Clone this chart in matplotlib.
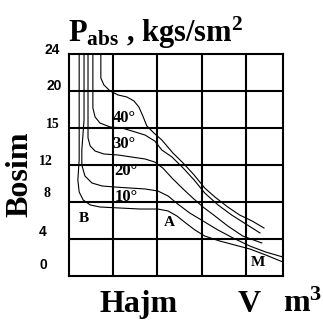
import matplotlib
matplotlib.use("Agg")
import matplotlib.pyplot as plt
import matplotlib.transforms as mtransforms

plt.rcParams['mathtext.fontset'] = 'custom'
plt.rcParams['mathtext.rm'] = 'Liberation Serif:bold'
plt.rcParams['mathtext.bf'] = 'Liberation Serif:bold'
plt.rcParams['mathtext.it'] = 'Liberation Serif:bold'

# isotherms (x in grid cells, y in kgs/sm2)
x40 = [0.72, 0.72, 0.79, 0.93, 1.11, 1.31, 1.47, 1.58, 1.67, 1.76, 1.92, 2.10, 2.35, 2.58, 2.83, 3.07, 3.30, 3.59, 3.86, 4.14, 4.41]
y40 = [24.0, 21.4, 20.65, 20.0, 19.57, 19.35, 18.92, 18.27, 17.3, 16.22, 15.46, 14.7, 13.3, 12.22, 10.92, 9.51, 8.54, 7.46, 6.59, 5.95, 5.19]
x30 = [0.54, 0.54, 0.59, 0.70, 0.93, 1.20, 1.42, 1.72, 1.94, 2.10, 2.33, 2.58, 2.83, 3.07, 3.37, 3.68, 4.00, 4.32]
y30 = [24.0, 18.16, 17.19, 16.54, 16.11, 16.0, 15.68, 15.24, 14.59, 13.62, 12.86, 11.68, 10.38, 8.97, 7.68, 6.59, 5.62, 4.65]
x20 = [0.43, 0.43, 0.48, 0.59, 0.79, 1.11, 1.42, 1.72, 1.94, 2.12, 2.35, 2.58, 2.80, 3.03, 3.30, 3.59, 3.93, 4.36]
y20 = [24.0, 14.92, 14.05, 13.51, 13.19, 13.08, 12.86, 12.65, 12.32, 11.68, 10.49, 9.41, 8.43, 7.46, 6.49, 5.41, 4.32, 3.57]
x10 = [0.34, 0.34, 0.29, 0.29, 0.36, 0.52, 0.75, 1.04, 1.38, 1.72, 2.01, 2.24, 2.46, 2.73, 3.03, 3.37, 3.71, 4.09, 4.45, 4.84]
y10 = [24.0, 16.86, 13.62, 12.0, 10.81, 10.05, 9.73, 9.62, 9.51, 9.41, 9.19, 8.65, 7.78, 6.81, 5.95, 4.97, 4.11, 3.24, 2.59, 2.05]
xba = [0.23, 0.23, 0.20, 0.23, 0.32, 0.48, 0.70, 1.15, 1.61, 2.01, 2.24, 2.44, 2.64, 2.85, 3.07, 3.41, 3.75, 4.09, 4.45, 4.84]
yba = [24.0, 12.54, 10.38, 9.08, 8.22, 7.68, 7.46, 7.35, 7.24, 7.24, 7.03, 6.49, 5.73, 4.97, 4.32, 3.78, 3.35, 2.92, 2.27, 1.51]

curves = [(x40, y40), (x30, y30), (x20, y20), (x10, y10), (xba, yba)]
temp_labels = ['40°', '30°', '20°', '10°']
point_labels = ['B', 'A', 'M']
ytick_labels = ['24', '20', '15', '12', '8', '4', '0']

fig = plt.figure(figsize=(3.23, 3.2), dpi=100)
ax = fig.add_axes([69/323, 44/320, 214/323, 222/320])
ax.set_xlim(0, 4.84)
ax.set_ylim(0, 24)

for xv in [1, 2, 3, 4]:
    ax.axvline(xv, color='black', lw=1.5)
for yv in [4, 8, 12, 16, 20]:
    ax.axhline(yv, color='black', lw=1.5)
for s in ax.spines.values():
    s.set_linewidth(1.5)

for xs, ys in curves:
    ax.plot(xs, ys, color='black', lw=0.8)

ax.set_xticks([])
ax.set_yticks([])

bold = dict(fontfamily='Liberation Serif', fontweight='bold', color='black')
temp_pos = [(1.26, 17.1), (1.24, 14.3), (1.29, 11.35), (1.29, 8.55)]
for lab, (tx, ty) in zip(temp_labels, temp_pos):
    ax.text(tx, ty, lab, ha='center', va='center', fontsize=12, **bold)
pt_pos = [(0.34, 6.27), (2.28, 5.73), (4.27, 1.41)]
for lab, (tx, ty) in zip(point_labels, pt_pos):
    ax.text(tx, ty, lab, ha='center', va='center', fontsize=11, **bold)

# y tick labels sit at odd offsets in the original
tick_y = [24.43, 20.54, 16.43, 12.43, 8.97, 4.76, 1.19]
tick_right = [60, 62, 60, 53, 50, 47, 47]
tick_font = ['Liberation Sans', 'Liberation Sans', 'Liberation Serif', 'Liberation Serif',
             'Liberation Serif', 'Liberation Sans', 'Liberation Sans']
trans = mtransforms.blended_transform_factory(fig.transFigure, ax.transData)
for lab, ty, tr, fam in zip(ytick_labels, tick_y, tick_right, tick_font):
    ax.text(tr/323, ty, lab, transform=trans, ha='right', va='center',
            fontsize=10, fontfamily=fam, fontweight='bold', clip_on=False)

fig.text(68/323, 1 - 42/320, r'$\mathbf{P_{abs}}$ , kgs/sm$^{\mathbf{2}}$',
         ha='left', va='baseline', fontsize=22, **bold)
fig.text(100/323, 1 - 312/320, 'Hajm', ha='left', va='baseline', fontsize=23, **bold)
fig.text(238/323, 1 - 312/320, 'V', ha='left', va='baseline', fontsize=23, **bold)
fig.text(283/323, 1 - 312/320, r'm$^{\mathbf{3}}$', ha='left', va='baseline', fontsize=23, **bold)
fig.text(20/323, 1 - 174/320, 'Bosim', rotation=90, ha='center', va='center', fontsize=23, **bold)

fig.savefig('out.png', dpi=100)
